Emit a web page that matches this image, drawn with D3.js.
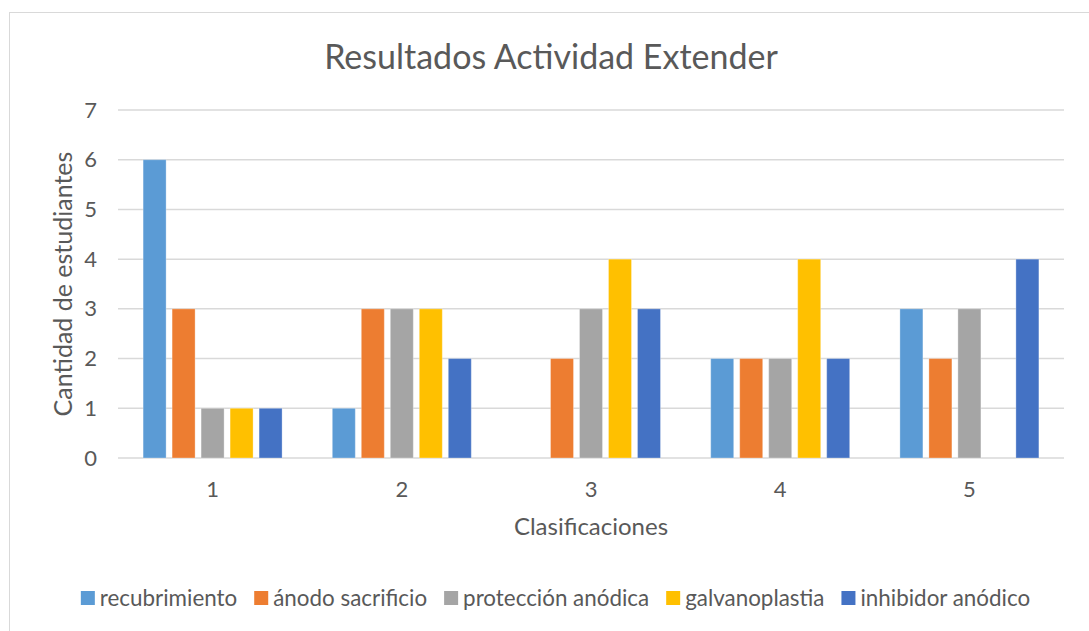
<!DOCTYPE html>
<html>
<head>
<meta charset="utf-8">
<script src="https://cdn.jsdelivr.net/npm/d3@7"></script>
<style>
  body { margin: 0; background: #fff; }
  text { font-family: Lato, "Open Sans", sans-serif; fill: #595959; }
</style>
</head>
<body>
<div id="chart"></div>
<script>
var svgWidth = 1089;
var svgHeight = 631;

// data
var categories = ["1", "2", "3", "4", "5"];
var seriesNames = ["recubrimiento", "ánodo sacrificio", "protección anódica", "galvanoplastia", "inhibidor anódico"];
var recubrimiento = [6, 1, 0, 2, 3];
var anodoSacrificio = [3, 3, 2, 2, 2];
var proteccionAnodica = [1, 3, 3, 2, 3];
var galvanoplastia = [1, 3, 4, 4, 0];
var inhibidorAnodico = [1, 2, 3, 2, 4];
var yTicks = [0, 1, 2, 3, 4, 5, 6, 7];
var colors = ["#5B9BD5", "#ED7D31", "#A5A5A5", "#FFC000", "#4472C4"];

var seriesValues = [recubrimiento, anodoSacrificio, proteccionAnodica, galvanoplastia, inhibidorAnodico];

var margin = { top: 110, right: 25, bottom: 173, left: 118 };
var width = svgWidth - margin.left - margin.right;
var height = svgHeight - margin.top - margin.bottom;

var svg = d3.select("#chart")
  .append("svg")
  .attr("width", svgWidth)
  .attr("height", svgHeight);

// outer chart border
svg.append("rect")
  .attr("x", 9.5)
  .attr("y", 12.5)
  .attr("width", 1100)
  .attr("height", 640)
  .attr("fill", "none")
  .attr("stroke", "#D9D9D9")
  .attr("stroke-width", 1);

var chartGroup = svg.append("g")
  .attr("transform", `translate(${margin.left}, ${margin.top})`);

var x0 = d3.scaleBand()
  .domain(categories)
  .range([0, width]);

var x1 = d3.scaleBand()
  .domain(seriesNames)
  .range([0, x0.bandwidth()])
  .paddingInner(0.207)
  .paddingOuter(0.866);

var y = d3.scaleLinear()
  .domain([0, 7])
  .range([height, 0]);

// gridlines
chartGroup.selectAll(".grid")
  .data(yTicks)
  .enter()
  .append("line")
  .attr("x1", 0)
  .attr("x2", width)
  .attr("y1", d => y(d))
  .attr("y2", d => y(d))
  .attr("stroke", "#D9D9D9")
  .attr("stroke-width", 1.5);

// y tick labels
var leftAxis = d3.axisLeft(y).tickValues(yTicks).tickFormat(d3.format("d")).tickSize(0).tickPadding(21);
var yAxisG = chartGroup.append("g").call(leftAxis);
yAxisG.select(".domain").remove();
yAxisG.selectAll("text")
  .style("font-size", "22px")
  .style("font-family", "Lato, sans-serif")
  .attr("fill", "#595959");

// x tick labels
var bottomAxis = d3.axisBottom(x0).tickSize(0).tickPadding(23);
var xAxisG = chartGroup.append("g")
  .attr("transform", `translate(0, ${height})`)
  .call(bottomAxis);
xAxisG.select(".domain").remove();
xAxisG.selectAll("text")
  .style("font-size", "22px")
  .style("font-family", "Lato, sans-serif")
  .attr("fill", "#595959");

// bars
var groups = chartGroup.selectAll(".cat")
  .data(categories)
  .enter()
  .append("g")
  .attr("transform", d => `translate(${x0(d)}, 0)`);

groups.selectAll("rect")
  .data((c, i) => seriesNames.map((s, j) => ({ s: s, j: j, v: seriesValues[j][i] })))
  .enter()
  .append("rect")
  .attr("x", d => x1(d.s))
  .attr("width", x1.bandwidth())
  .attr("y", d => y(d.v))
  .attr("height", d => height - y(d.v))
  .attr("fill", d => colors[d.j])
  .attr("stroke", "#fff")
  .attr("stroke-opacity", 0.3)
  .attr("stroke-width", 1);

// title
svg.append("text")
  .attr("x", 551)
  .attr("y", 69)
  .attr("text-anchor", "middle")
  .style("font-size", "34px")
  .text("Resultados Actividad Extender");

// axis titles
svg.append("text")
  .attr("transform", `translate(72, ${margin.top + height / 2}) rotate(-90)`)
  .attr("text-anchor", "middle")
  .style("font-size", "25px")
  .text("Cantidad de estudiantes");

svg.append("text")
  .attr("x", margin.left + width / 2)
  .attr("y", 535)
  .attr("text-anchor", "middle")
  .style("font-size", "24px")
  .text("Clasificaciones");

// legend
var legend = svg.append("g");
var items = legend.selectAll(".item")
  .data(seriesNames)
  .enter()
  .append("g");

items.append("rect")
  .attr("width", 14)
  .attr("height", 14)
  .attr("y", 591)
  .attr("fill", (d, i) => colors[i]);

items.append("text")
  .attr("x", 19)
  .attr("y", 606)
  .style("font-size", "22.4px")
  .text(d => d);

var widths = [];
items.each(function() { widths.push(this.querySelector("text").getComputedTextLength() + 19); });
var gap = 17;
var total = d3.sum(widths) + gap * (widths.length - 1);
var start = 555.5 - total / 2;
items.attr("transform", function(d, i) {
  var xx = start + d3.sum(widths.slice(0, i)) + gap * i;
  return `translate(${xx}, 0)`;
});
</script>
</body>
</html>
